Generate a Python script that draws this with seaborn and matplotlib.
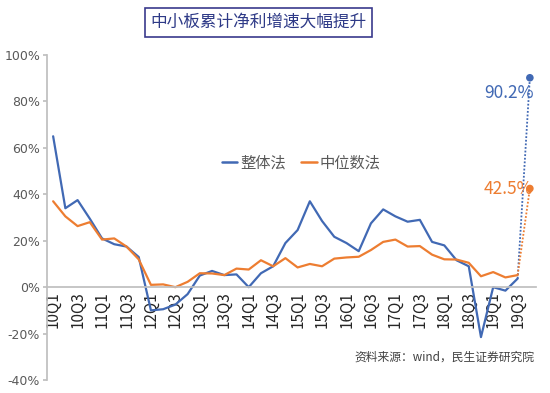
import matplotlib
matplotlib.use("Agg")
import matplotlib.pyplot as plt
import seaborn as sns
import pandas as pd
from matplotlib.lines import Line2D

quarters = [f"{y}Q{q}" for y in range(10, 20) for q in range(1, 5)][:39]
overall = [65, 34, 37.5, 29.5, 21, 18.5, 17.5, 13, -10, -9.5,
           -7.5, -3, 5, 7, 5.2, 5.5, 0, 6, 9, 19,
           24.6, 37, 28.5, 21.7, 19, 15.5, 27.5, 33.5, 30.5, 28.2,
           29, 19.5, 18, 11.6, 9, -21.5, 0, -1.5, 3.7]
median = [37, 30.5, 26.3, 28, 20.5, 21, 17.5, 12, 1, 1.2,
          0, 2.3, 6, 5.9, 5.2, 8, 7.6, 11.6, 9, 12.5,
          8.5, 10, 9, 12.3, 12.8, 13.1, 16, 19.5, 20.5, 17.5,
          17.7, 14, 12, 11.9, 10.5, 4.7, 6.5, 4.2, 5.2]
forecast_label = "19Q4"
overall_last = 90.2
median_last = 42.5
series_names = ["整体法", "中位数法"]
title = "中小板累计净利增速大幅提升"
source = "资料来源：wind，民生证券研究院"
yticks = [-40, -20, 0, 20, 40, 60, 80, 100]

sns.set_theme(style="white")
plt.rcParams['font.family'] = ['Noto Sans CJK SC', 'DejaVu Sans']
plt.rcParams['axes.unicode_minus'] = True

BLUE = "#4169B4"
ORANGE = "#ED7D31"
GRAY = "#595959"

n = len(quarters)
df = pd.DataFrame({
    "x": list(range(n)) * 2,
    "v": overall + median,
    "s": [series_names[0]] * n + [series_names[1]] * n,
})
dfx = pd.DataFrame({
    "x": [n - 1, n, n - 1, n],
    "v": [overall[-1], overall_last, median[-1], median_last],
    "s": [series_names[0]] * 2 + [series_names[1]] * 2,
})

fig = plt.figure(figsize=(5.5, 3.93), dpi=100)
ax = fig.add_axes([0.0855, 0.033, 0.889, 0.827])

sns.lineplot(data=df, x="x", y="v", hue="s", palette=[BLUE, ORANGE],
             linewidth=1.6, ax=ax, legend=False)
sns.lineplot(data=dfx, x="x", y="v", hue="s", palette=[BLUE, ORANGE],
             linewidth=1.3, linestyle=(0, (1, 1)), ax=ax, legend=False)
sns.scatterplot(x=[n, n], y=[overall_last, median_last], hue=series_names,
                palette=[BLUE, ORANGE], s=30, ax=ax, legend=False, zorder=5,
                edgecolor="none")

ax.text(n + 0.3, overall_last - 2.5, f"{overall_last}%", color=BLUE, fontsize=12.5,
        ha="right", va="top", family=['Noto Sans CJK SC', 'DejaVu Sans'])
ax.text(n + 0.3, median_last, f"{median_last}%", color=ORANGE, fontsize=12.5,
        ha="right", va="center", family=['Noto Sans CJK SC', 'DejaVu Sans'])

ax.set_xlim(-0.5, n + 0.5)
ax.set_ylim(-40, 100)
ax.set_yticks(yticks)
ax.set_yticklabels([f"{t}%" for t in yticks], color=GRAY, fontsize=9,
                   family="DejaVu Sans")
ax.set_xlabel("")
ax.set_ylabel("")

labels_pos = list(range(0, n, 2))
ax.set_xticks(labels_pos)
ax.set_xticklabels([quarters[i] for i in labels_pos], color=GRAY,
                   fontsize=11.5, family="DejaVu Sans")
ax.set_xticks([i - 0.5 for i in range(0, n + 2, 2)], minor=True)
ax.tick_params(axis="x", which="major", length=0, pad=3, labelrotation=90)
ax.tick_params(axis="x", which="minor", length=4, color="#BFBFBF", direction="out")
ax.tick_params(axis="y", length=3, color="#BFBFBF", direction="out", pad=2, left=True)
for lab in ax.get_xticklabels():
    lab.set_rotation(90)
    lab.set_va("top")
    lab.set_ha("center")

for side in ["top", "right"]:
    ax.spines[side].set_visible(False)
ax.spines["bottom"].set_position(("data", 0))
ax.spines["bottom"].set_color("#BFBFBF")
ax.spines["left"].set_color("#BFBFBF")
ax.grid(False)

handles = [Line2D([], [], color=BLUE, lw=1.8), Line2D([], [], color=ORANGE, lw=1.8)]
leg = ax.legend(handles, series_names, loc="center", bbox_to_anchor=(0.52, 0.668),
                ncol=2, frameon=False, handlelength=1.0, handletextpad=0.2,
                columnspacing=1.0, prop={"size": 11})
for t in leg.get_texts():
    t.set_color(GRAY)

fig.text(0.47, 0.943, title, ha="center", va="center", fontsize=12, color="#2E3A87",
         bbox=dict(boxstyle="square,pad=0.35", fc="white", ec="#3A3A8C", lw=1.2))
fig.text(0.972, 0.09, source, ha="right", va="center", fontsize=8.5, color="#404040")

fig.savefig("out.png", dpi=100)
